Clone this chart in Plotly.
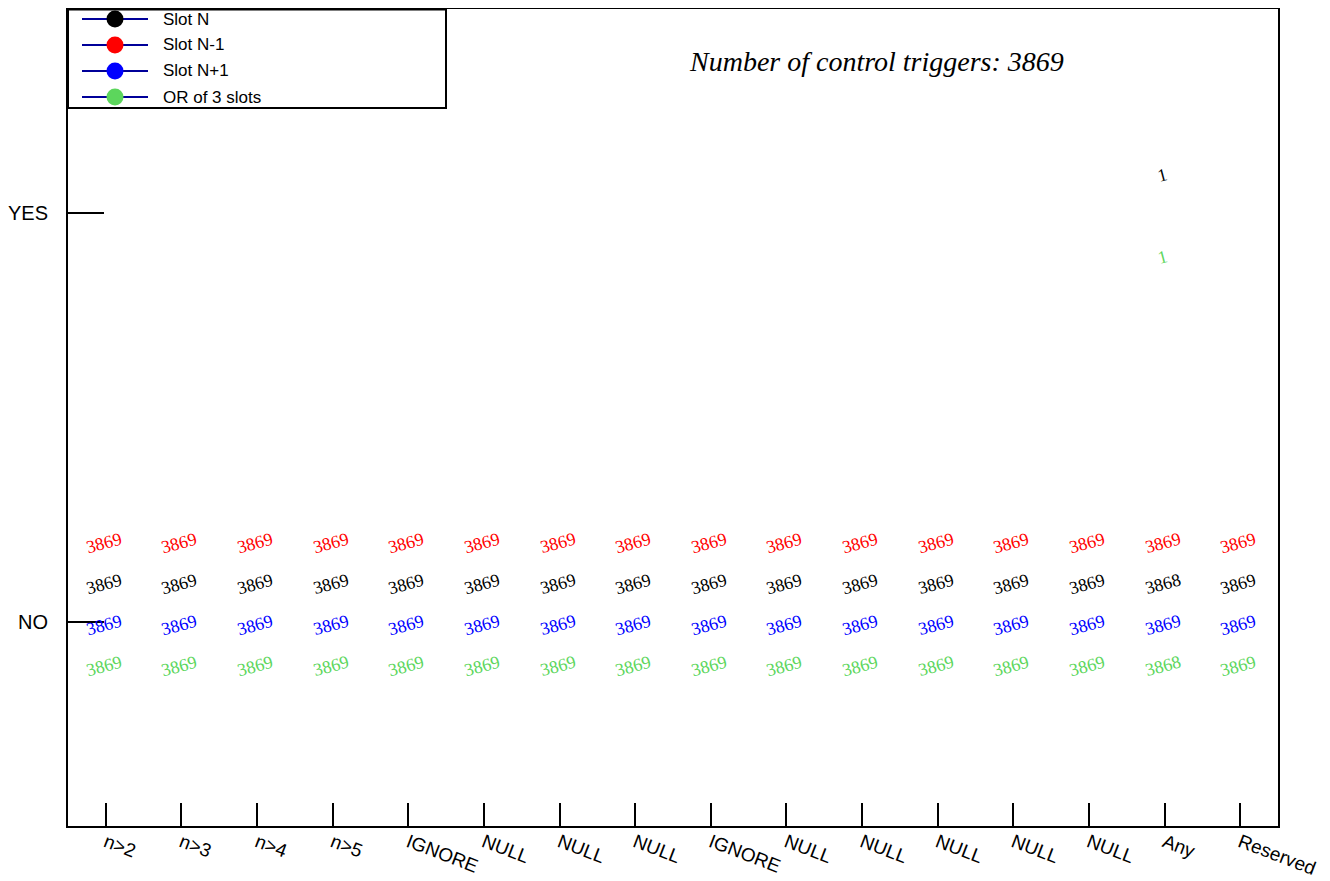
import plotly.graph_objects as go

# x categories (16 bins) and y categories
categories = ["n>2", "n>3", "n>4", "n>5", "IGNORE", "NULL", "NULL", "NULL",
              "IGNORE", "NULL", "NULL", "NULL", "NULL", "NULL", "Any", "Reserved"]
y_labels = ["NO", "YES"]

# counts per bin: NO row and YES row (0 = empty, not printed)
slot_n_no = [3869, 3869, 3869, 3869, 3869, 3869, 3869, 3869,
             3869, 3869, 3869, 3869, 3869, 3869, 3868, 3869]
slot_n_yes = [0, 0, 0, 0, 0, 0, 0, 0, 0, 0, 0, 0, 0, 0, 1, 0]
slot_nm1_no = [3869] * 16
slot_nm1_yes = [0] * 16
slot_np1_no = [3869] * 16
slot_np1_yes = [0] * 16
or3_no = [3869, 3869, 3869, 3869, 3869, 3869, 3869, 3869,
          3869, 3869, 3869, 3869, 3869, 3869, 3868, 3869]
or3_yes = [0, 0, 0, 0, 0, 0, 0, 0, 0, 0, 0, 0, 0, 0, 1, 0]

n_triggers = 3869

GREEN = "#5cd65c"
series = [
    # name, colour, text offset within bin, NO row, YES row
    ("Slot N", "black", 0.1, slot_n_no, slot_n_yes),
    ("Slot N-1", "red", 0.2, slot_nm1_no, slot_nm1_yes),
    ("Slot N+1", "blue", 0.0, slot_np1_no, slot_np1_yes),
    ("OR of 3 slots", GREEN, -0.1, or3_no, or3_yes),
]

# page has an 8px body margin, so the figure is a little smaller
PAGE = 8
W, H = 1330 - PAGE, 881 - PAGE
L, R, T, B = 60, 52, 1, 55
PW, PH = W - L - R, H - T - B


def px(x):
    # screen x (as in the reference) -> paper
    return (x - PAGE - L) / PW


def py(y):
    return (H - B - (y - PAGE)) / PH


SERIF = "Liberation Serif, Times New Roman, serif"
SANS = "Liberation Sans, Arial, sans-serif"

fig = go.Figure()
# invisible trace so the axes exist
fig.add_trace(go.Scatter(x=[None], y=[None], showlegend=False, hoverinfo="skip"))

annotations = []
for name, color, off, row_no, row_yes in series:
    for yi, row in enumerate([row_no, row_yes]):
        for xi, v in enumerate(row):
            if v == 0:
                continue
            annotations.append(dict(
                x=xi, y=yi + off, xref="x", yref="y", text=str(v), showarrow=False,
                textangle=-15, yshift=-3, xshift=-2,
                font=dict(family=SERIF, size=18, color=color),
            ))

annotations.append(dict(
    x=px(876), y=py(62), xref="paper", yref="paper", showarrow=False,
    xanchor="center", yanchor="middle",
    text="<i>Number of control triggers: %d</i>" % n_triggers,
    font=dict(family=SERIF, size=28, color="black"),
))

# legend box drawn by hand (ROOT style)
shapes = [dict(type="rect", xref="paper", yref="paper", x0=px(68), x1=px(446),
               y0=py(108), y1=py(9.5), line=dict(color="black", width=2),
               fillcolor="white", layer="above")]
row_y = [19, 45, 71, 97]
for (name, color, off, _, _), ry in zip(series, row_y):
    shapes.append(dict(type="line", xref="paper", yref="paper", x0=px(82), x1=px(148),
                       y0=py(ry), y1=py(ry), line=dict(color="#000099", width=2),
                       layer="above"))
    shapes.append(dict(type="circle", xref="paper", yref="paper",
                       xsizemode="pixel", ysizemode="pixel",
                       xanchor=px(115), yanchor=py(ry), x0=-8.5, x1=8.5, y0=-8.5, y1=8.5,
                       fillcolor=color, line=dict(color=color, width=0), layer="above"))
    annotations.append(dict(x=px(161), y=py(ry), xref="paper", yref="paper",
                            xanchor="left", yanchor="middle", showarrow=False, text=name,
                            font=dict(family=SANS, size=17, color="black")))

fig.update_layout(
    width=W, height=H,
    margin=dict(l=L, r=R, t=T, b=B, autoexpand=False),
    paper_bgcolor="white", plot_bgcolor="white",
    showlegend=False,
    font=dict(family=SANS, size=20, color="black"),
    xaxis=dict(range=[-0.5, 15.5], tickvals=list(range(len(categories))),
               ticktext=categories, tickangle=21, ticks="inside", ticklen=23,
               tickwidth=1.5, tickcolor="black", showline=True, linecolor="black",
               linewidth=2, mirror=True, showgrid=False, zeroline=False,
               ticklabelstandoff=-4, tickfont=dict(size=19)),
    yaxis=dict(range=[-0.5, 1.5], tickvals=[0, 1], ticktext=y_labels,
               ticks="inside", ticklen=36, tickwidth=2, tickcolor="black",
               showline=True, linecolor="black", linewidth=2, mirror=True,
               showgrid=False, zeroline=False, ticklabelstandoff=14,
               tickfont=dict(size=20)),
    annotations=annotations,
    shapes=shapes,
)

fig.write_html("out.html")
